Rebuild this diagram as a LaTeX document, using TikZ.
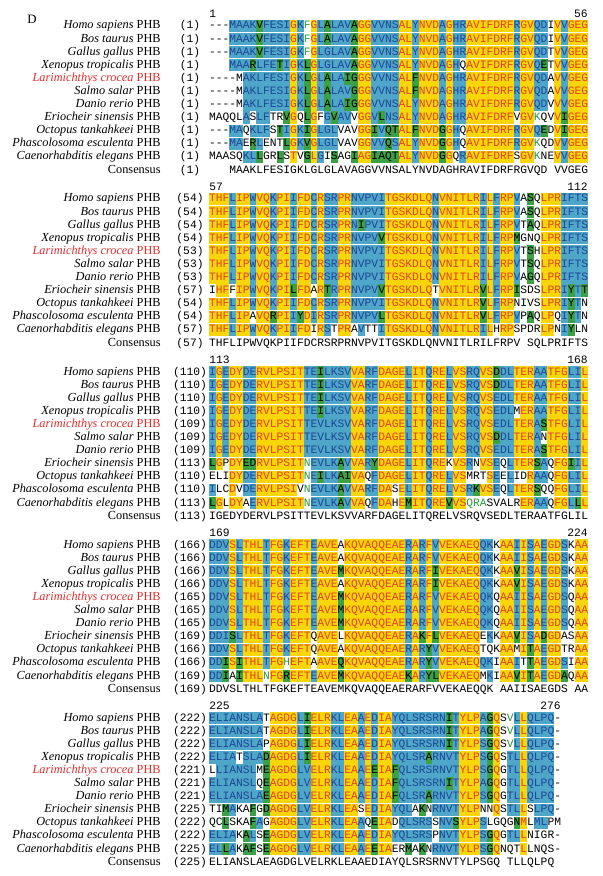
\documentclass[tikz,border=0pt]{standalone}
\usepackage{fontspec}
\setmainfont{Liberation Serif}
\newfontfamily\seqfont{Liberation Mono}

\definecolor{hlyellow}{RGB}{248,214,10}
\definecolor{hlblue}{RGB}{78,166,200}
\definecolor{hlgreen}{RGB}{60,160,70}
\definecolor{txred}{RGB}{226,66,30}
\definecolor{txblue}{RGB}{30,70,150}
\definecolor{txgreen}{RGB}{40,150,60}
\definecolor{larired}{RGB}{225,45,45}

\makeatletter
\newcount\rescol
\newcommand\resrow[4]{%
	\rescol = 0
	\def\res@id{#1}%
	\def\res@y{#2}%
	\edef\res@go{\noexpand\res@walk#3\noexpand\@nil#4wwwwwwwwwwwwwwwwwwwwwwwwwwwwwwwwwwwwwwwwwwwwwwwwwwwwwwwwwwwww\noexpand\@nil}%
	\res@go}
\def\res@walk#1#2\@nil#3#4\@nil{%
	\advance\rescol by 1
	\ifx_#1\else
		\node[cell, hl #3] (\res@id-\the\rescol) at ({209 + 6.77*(\the\rescol - 0.5)}, \res@y) {#1};
	\fi
	\def\res@rest{#2}%
	\ifx\res@rest\@empty\else\res@walk#2\@nil#4\@nil\fi}
\makeatother

\begin{document}
\begin{tikzpicture}[x = 0.5pt, y = -0.5pt,
		panel/.style = {inner sep = 0pt, font = \fontsize{6.4pt}{7pt}\selectfont},
		species/.style = {anchor = east, inner sep = 0pt, text height = 4.3pt, text depth = 1.3pt, font = \fontsize{6.15pt}{7pt}\selectfont},
		number/.style = {inner sep = 0pt, text height = 3.9pt, text depth = 0.9pt, font = \seqfont\fontsize{5.64pt}{6pt}\selectfont},
		ruler/.style = {inner sep = 0pt, text height = 3.9pt, text depth = 0pt, font = \seqfont\fontsize{5.64pt}{6pt}\selectfont},
		cell/.style = {inner sep = 0pt, minimum width = 3.44pt, minimum height = 6.2pt, text height = 3.9pt, text depth = 0.9pt, font = \seqfont\fontsize{5.64pt}{6pt}\selectfont},
		hl y/.style = {fill = hlyellow, text = txred},
		hl b/.style = {fill = hlblue, text = txblue},
		hl g/.style = {fill = hlgreen, text = black},
		hl w/.style = {text = black},
		hl n/.style = {text = txgreen},
		hl k/.style = {text = black}]
	\useasboundingbox (0, 0) rectangle (602, 876);
	\node[panel] (panel) at (32, 19) {D};

	\foreach \b in {0, 1, 2, 3, 4} {
		\foreach \nm/\cc [count = \r from 0] in {Homo sapiens/black, Bos taurus/black, Gallus gallus/black, Xenopus tropicalis/black, Larimichthys crocea/larired, Salmo salar/black, Danio rerio/black, Eriocheir sinensis/black, Octopus tankahkeei/black, Phascolosoma esculenta/black, Caenorhabditis elegans/black} {
			\node[species, text = \cc] (name-\b-\r) at (161, {26 + 173*\b + 13.1*\r}) {\textit{\nm} PHB};
		}
		\node[species] (cons-\b) at (161, {26 + 173*\b + 144.1}) {Consensus};
	}

	\foreach \b/\first/\last/\ncol in {0/1/56/56, 1/57/112/56, 2/113/168/56, 3/169/224/56, 4/225/276/52} {
		\node[ruler, anchor = west] (start-\b) at (209, {14 + 173*\b}) {\first};
		\node[ruler, anchor = east] (end-\b) at ({209 + 6.77*\ncol}, {14 + 173*\b}) {\last};
	}

	\foreach \nu/\rs/\cl [count = \r from 0] in {
			1/---MAAKVFESIGKFGLALAVAGGVVNSALYNVDAGHRAVIFDRFRGVQDIVVGEG/wwwbbbbgbbbbybnybgbbbgyybbbbyybyyybybbyyyyyyybyybbwybyyy,
			1/---MAAKVFESIGKFGLALAVAGGVVNSALYNVDAGHRAVIFDRFRGVQDIVVGEG/wwwbbbbgbbbbybnybgbbbgyybbbbyybyyybybbyyyyyyybyybbwybyyy,
			1/---MAAKVFESIGKFGLGLAVAGGVVNSALYNVDAGHRAVIFDRFRGVQDTVVGEG/wwwbbbbgbbbbybnybbbbbgyybbbbyybyyybybbyyyyyyybyybbwybyyy,
			1/___MAARLFETIGKLGLGLAVAGGVVNSALYNVDAGHQAVIFDRFRGVQETVVGEG/wwwbbbgbbbgbybgybbbbbgyybbbbyybyyybybwyyyyyyybyybgwybyyy,
			1/----MAKLFESIGKLGLALAIGGGVVNSALFNVDAGHRAVIFDRFRGVQDAVVGEG/wwwwwbbbbbbbybgybgbbggyybbbbyygyyybybbyyyyyyybyybbwybyyy,
			1/----MAKLFESIGKLGLALAVGGGVVNSALFNVDAGHRAVIFDRFRGVQDAVVGEG/wwwwwbbbbbbbybgybgbbbgyybbbbyygyyybybbyyyyyyybyybbwybyyy,
			1/----MAKLFESIGKLGLALAIGGGVVNSALYNVDAGHRAVIFDRFRGVQDVVVGEG/wwwwwbbbbbbbybgybgbbggyybbbbyybyyybybbyyyyyyybyybbwybyyy,
			1/MAQQLASLFTRVGQLGFGVAVVGGVLNSALYNVDAGHRAVIFDRFVGVKQVVIGEG/wwwwwbwbbwwgywgywbgbbwyybgbbyybyyybybbyyyyyyywyynwwygyyy,
			1/---MAQKLFSTIGKIGLGLVAVGGIVQTALFNVDGGHQAVIFDRFRGVQEDVIGEG/wwwbbwbbbwgbybgybbbwwwyygbggyygyyygybwyyyyyyybyybgwygyyy,
			1/---MAERLENTLGKVGLGLVAVGGVVQSALYNVDGGHQAVIFDRFRGVKQDVVGEG/wwwbbwgbwwwgybgybbbwwwyybbgbyybyyygybwyyyyyyybyynwwybyyy,
			1/MAASQKLLGRLSTVGLGISAGIAGIAQTALYNVDGGQRAVIFDRFSGVKNEVVGEG/wwwwwbbgwwgwywgybwgwwgyyggggyybyyygywbyyyyyyywyynwwybyyy,
			1/___MAAKLFESIGKLGLGLAVAGGVVNSALYNVDAGHRAVIFDRFRGVQD_VVGEG/k} {
		\pgfmathsetmacro\yy{26 + 13.1*\r}
		\node[number] (num-0-\r) at (190, \yy) {(\nu)};
		\resrow{s0-\r}{\yy}{\rs}{\cl}
	}

	\foreach \nu/\rs/\cl [count = \r from 0] in {
			54/THFLIPWVQKPIIFDCRSRPRNVPVITGSKDLQNVNITLRILFRPVASQLPRIFTS/yyybyybyybyybyybybbyybbbbbyyyyyyybyyyyyybybyybwgwyyybbbb,
			54/THFLIPWVQKPIIFDCRSRPRNVPVITGSKDLQNVNITLRILFRPVASQLPRIFTS/yyybyybyybyybyybybbyybbbbbyyyyyyybyyyyyybybyybwgwyyybbbb,
			54/THFLIPWVQKPIIFDCRSRPRNIPVITGSKDLQNVNITLRILFRPVTAQLPRIFTS/yyybyybyybyybyybybbyybgbbbyyyyyyybyyyyyybybyybwgwyyybbbb,
			54/THFLIPWVQKPIIFDCRSRPRNVPVVTGSKDLQNVNITLRILFRPMGNQLPRIFTS/yyybyybyybyybyybybbyybbbbgyyyyyyybyyyyyybybyygwwwyyybbbb,
			53/THFLIPWVQKPIIFDCRSRPRNVPVITGSKDLQNVNITLRILFRPVTSHLPRIFTS/yyybyybyybyybyybybbyybbbbbyyyyyyybyyyyyybybyybwgwyyybbbb,
			53/THFLIPWVQKPIIFDCRSRPRNVPVITGSKDLQNVNITLRILFRPVTSQLPRIFTS/yyybyybyybyybyybybbyybbbbbyyyyyyybyyyyyybybyybwgwyyybbbb,
			53/THFLIPWVQKPIIFDCRSRPRNVPVITGSKDLQNVNITLRILFRPVAGQLPRIFTS/yyybyybyybyybyybybbyybbbbbyyyyyyybyyyyyybybyybwgwyyybbbb,
			57/IHFFIPWVQKPILFDARTRPRNVPVVTGSKDLQTVNITLRVLFRPISDSLPRIYTT/wyywyybyybyygyywygbyybbbbgyyyyyyywyyyyyygybyygwwwyyybgbg,
			54/THFLIPWVQKPIIFDCRSRPRNVPVITGSKDLQNVNITLRVLFRPNIVSLPRIYTN/yyybyybyybyybyybybbyybbbbbyyyyyyybyyyyyygybyywwwwyyybgbw,
			54/THFLIPAVQRPIIYDIRSRPRNVPVLTGSKDLQNVNITLRVLFRPVPAQLPQIYTN/yyybyywyygyybgybybbyybbbbgyyyyyyybyyyyyygybyybwgwyywbgbw,
			57/THFLIPWVQKPIIFDIRSTPRAVTTITGSKDLQNVNITLRILHRPSPDRLPNIYLN/yyybyybyybyybyywybwyywbwwbyyyyyyybyyyyyybywyywwwwyywbgww,
			57/THFLIPWVQKPIIFDCRSRPRNVPVITGSKDLQNVNITLRILFRPV_SQLPRIFTS/k} {
		\pgfmathsetmacro\yy{199 + 13.1*\r}
		\node[number] (num-1-\r) at (190, \yy) {(\nu)};
		\resrow{s1-\r}{\yy}{\rs}{\cl}
	}

	\foreach \nu/\rs/\cl [count = \r from 0] in {
			110/IGEDYDERVLPSITTEILKSVVARFDAGELITQRELVSRQVSDDLTERAATFGLIL/bybyybbyyyyyyybbgbbbbyybbyyyybyybyybyybbyygbbyyybbyyybby,
			110/IGEDYDERVLPSITTEILKSVVARFDAGELITQRELVSRQVSDDLTERAATFGLIL/bybyybbyyyyyyybbgbbbbyybbyyyybyybyybyybbyygbbyyybbyyybby,
			110/IGEDYDERVLPSITTEILKSVVARFDAGELITQRELVSRQVSEDLTERAATFGLIL/bybyybbyyyyyyybbgbbbbyybbyyyybyybyybyybbyybbbyyybbyyybby,
			110/IGEDYDERVLPSITTEILKSVVARFDAGELITQRELVSRQVSEDLMERAATFGLIL/bybyybbyyyyyyybbgbbbbyybbyyyybyybyybyybbyybbbwyybbyyybby,
			109/IGEDYDERVLPSITTEVLKSVVARFDAGELITQRELVSRQVSEDLTERASTFGLIL/bybyybbyyyyyyybbbbbbbyybbyyyybyybyybyybbyybbbyyybgyyybby,
			109/IGEDYDERVLPSITTEVLKSVVARFDAGELITQRELVSRQVSDDLTERANTFGLIL/bybyybbyyyyyyybbbbbbbyybbyyyybyybyybyybbyygbbyyybwyyybby,
			109/IGEDYDERVLPSITTEVLKSVVARFDAGELITQRELVSRQVSEDLTERASTFGLIL/bybyybbyyyyyyybbbbbbbyybbyyyybyybyybyybbyybbbyyybgyyybby,
			113/LGPDYEDRVLPSITNEVLKAVVARYDAGELITQREKVSRNVSEQLTERSAQFGIIL/gywyyggyyyyyyynbbbbgbyybgyyyybyybyywyybwyybwbyyygbwyygby,
			110/ELIDYDERVLPSITNEILKAIVAQFDAGELITQRELVSMRTSEELIDRAAQFGLIL/wwwyybbyyyyyyynbgbbggyywbyyyybyybyybyywwwybwbwwybbwyybby,
			110/ILCDVDERVLPSIVNEVLKAVVARFDASELITQRELVSRKVSEQLTERSQQFGLIL/bwwywbbyyyyyywnbbbbgbyybbyywybyybyybyybgyybwbyyygwwyybby,
			113/LGLDYAERVLPSITNEVLKAVVAQFDAHEMITQREVVSQRASVALRERAAQFGLLL/gywyywbyyyyyyynbbbbgbyywbyywygyybyygyynnnwwwwwyybbwyybgy,
			113/IGEDYDERVLPSITTEVLKSVVARFDAGELITQRELVSRQVSEDLTERAATFGLIL/k} {
		\pgfmathsetmacro\yy{372 + 13.1*\r}
		\node[number] (num-2-\r) at (190, \yy) {(\nu)};
		\resrow{s2-\r}{\yy}{\rs}{\cl}
	}

	\foreach \nu/\rs/\cl [count = \r from 0] in {
			166/DDVSLTHLTFGKEFTEAVEAKQVAQQEAERARFVVEKAEQQKKAAIISAEGDSKAA/bbbybyyybyybyyybyyywyyyyyyyyybybybyyyyyybbwyybybybyybwyy,
			166/DDVSLTHLTFGKEFTEAVEAKQVAQQEAERARFVVEKAEQQKKAAIISAEGDSKAA/bbbybyyybyybyyybyyywyyyyyyyyybybybyyyyyybbwyybybybyybwyy,
			166/DDVSLTHLTFGKEFTEAVEMKQVAQQEAERARFIVEKAEQQKKAAVISAEGDSKAA/bbbybyyybyybyyybyyygyyyyyyyyybybygyyyyyybbwyygybybyybwyy,
			166/DDVSLTHLTFGKEFTEAVEAKQVAQQEAERARFIVEKAEQQKKAAVISAEGDSKAA/bbbybyyybyybyyybyyywyyyyyyyyybybygyyyyyybbwyygybybyybwyy,
			165/DDVSLTHLTFGKEFTEAVEMKQVAQQEAERARFVVEKAEQQKQAAIISAEGDSQAA/bbbybyyybyybyyybyyygyyyyyyyyybybybyyyyyybbwyybybybyybwyy,
			165/DDVSLTHLTFGKEFTEAVEMKQVAQQEAERARFVVEKAEQQKQAAIISAEGDSQAA/bbbybyyybyybyyybyyygyyyyyyyyybybybyyyyyybbwyybybybyybwyy,
			165/DDVSLTHLTFGKEFTEAVEMKQVAQQEAERARFVVEKAEQQKQAAIISAEGDSQAA/bbbybyyybyybyyybyyygyyyyyyyyybybybyyyyyybbwyybybybyybwyy,
			169/DDISLTHLTFGKEFTQAVELKQVAQQEAERAKFLVEKAEQEKKAAVISADGDASAA/bbbgbyyybyybyyywyyywyyyyyyyyybygygyyyyyywbwyygybygyywwyy,
			166/DDVSLTHLTFGKEFTQAVEAKQVAQQEAERARYVVEKAEQTQKAAMITAEGDTRAA/bbbybyyybyybyyywyyywyyyyyyyyybybgbyyyyyywwwyywygybyywwyy,
			166/DDISITHLTFGHEFTAAVEQKQVAQQEAERARYVVEKAEQQKIAAITTAEGDSIAA/bbgygyyybyynyyywyyygyyyyyyyyybybgbyyyyyybbwyybwgybyybwyy,
			169/DDIAITHLNFGREFTEAVEMKQVAQQEAEKARYLVEKAEQMKIAAVITAEGDAQAA/bbgwgyyynyygyyybyyygyyyyyyyyygybggyyyyyywbwyygygybyygwyy,
			169/DDVSLTHLTFGKEFTEAVEMKQVAQQEAERARFVVEKAEQQK_AAIISAEGDS_AA/k} {
		\pgfmathsetmacro\yy{545 + 13.1*\r}
		\node[number] (num-3-\r) at (190, \yy) {(\nu)};
		\resrow{s3-\r}{\yy}{\rs}{\cl}
	}

	\foreach \nu/\rs/\cl [count = \r from 0] in {
			222/ELIANSLATAGDGLIELRKLEAAEDIAYQLSRSRNITYLPAGQSVLLQLPQ-/bbbbbbbbwyyyybgyyybbyybybyybbbbbbbbgbyyybgywnbybbbbw,
			222/ELIANSLATAGDGLIELRKLEAAEDIAYQLSRSRNITYLPAGQSVLLQLPQ-/bbbbbbbbwyyyybgyyybbyybybyybbbbbbbbgbyyybgywnbybbbbw,
			222/ELIANSLAPAGDGLIELRKLEAAEDIAYQLSRSRNITYLPSGQSVLLQLPQ-/bbbbbbbbwyyyybgyyybbyybybyybbbbbbbbgbyyybgywnbybbbbw,
			222/ELIATSLADAGDGLIELRKLEAAEDIAYQLSRARNVTYLPSGQSTLLQLPQ-/bbbbwbbbgyyyybgyyybbyybybyybbbbbgbbbbyyybgywbbybbbbw,
			221/LLIANSLMEAGDGLVELRKLEAAEEIAFQLSRSRNVTYLPSGQGTLLQLPQ-/wbbbbbbwgyyyybbyyybbyybygyygbbbbbbbbbyyybgywbbybbbbw,
			221/ELIANSLQEAGDGLVELRKLEAAEDIAFQLSRSRNITYLPAGQGTLLQLPQ-/bbbbbbbwgyyyybbyyybbyybybyygbbbbbbbgbyyybgywbbybbbbw,
			221/ELIANSLAEAGDGLVELRKLEAAEDIAFQLSRARNVTYLPSGQGTLLQLPQ-/bbbbbbbbgyyyybbyyybbyybybyygbbbbgbbbbyyybgywbbybbbbw,
			225/TIMAKAFGDAGDGLVELRKLEASEDIAYQLAKNRNVTYLPNNQSTLLSLPQ-/wwgbwwgwgyyyybbyyybbyywybyybbbwgwbbbbyyywwywbbywbbbw,
			222/QCLSKAFAGAGDGLVELRKLEAAQEIADQLSRSSNVSYLPSLGQGNMLMLPM/wwgwwwgbwyyyybbyyybbyybwgyywbbbbbwbbgyyybwwwwgywbbww,
			222/ELIAKALSEAGDGLVELRKLEAAEDIAYQLSRSPNVTYLPSGQGTLLNIGR-/bbbbwgbwgyyyybbyyybbyybybyybbbbbbwbbbyyybgywbbywwwww,
			225/ELLAKAFSEAGDGLVELRKLEAAEEIAERMAKNRNVTYLPSGQNQTLLNQS-/bbgbwggwgyyyybbyyybbyybygyywwgwgwbbbbyyybgywwwywwwww,
			225/ELIANSLAEAGDGLVELRKLEAAEDIAYQLSRSRNVTYLPSGQ_TLLQLPQ_/k} {
		\pgfmathsetmacro\yy{718 + 13.1*\r}
		\node[number] (num-4-\r) at (190, \yy) {(\nu)};
		\resrow{s4-\r}{\yy}{\rs}{\cl}
	}
\end{tikzpicture}
\end{document}
